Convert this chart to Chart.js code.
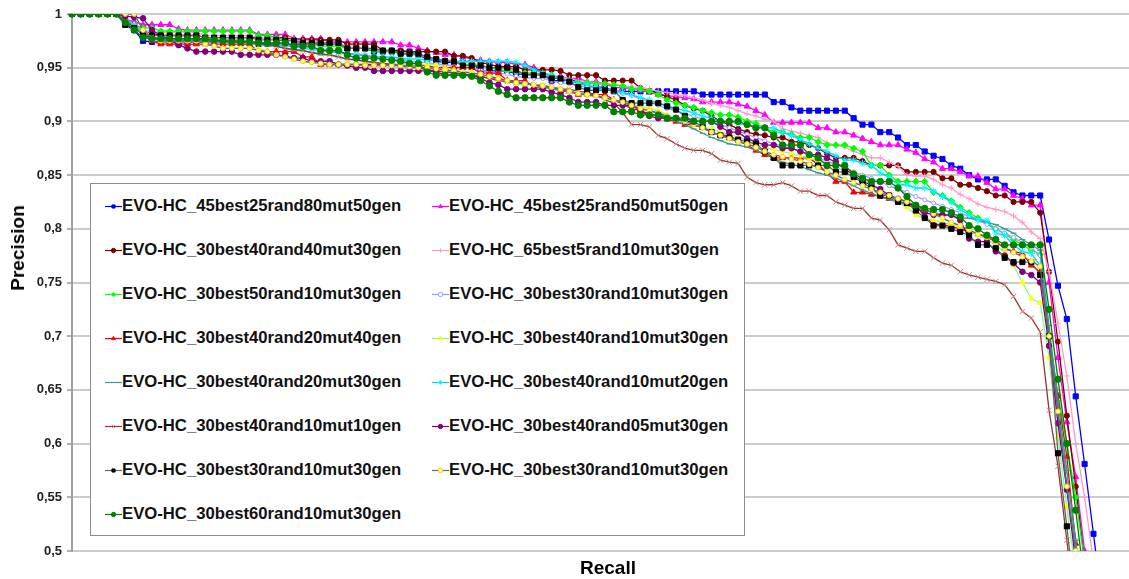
<!DOCTYPE html>
<html>
<head>
<meta charset="utf-8">
<script src="https://cdn.jsdelivr.net/npm/chart.js@4.4.1/dist/chart.umd.min.js"></script>
<style>
  body { margin: 0; background: #fff; }
  #wrap { position: relative; width: 1129px; height: 579px; overflow: hidden; }
  #chart { position: absolute; left: 0; top: 0; }
  .axis-title { position: absolute; font: bold 19px "Liberation Sans", Arial, sans-serif; color: #000; white-space: nowrap; }
  #ytitle { left: 18px; top: 248px; transform: translate(-50%, -50%) rotate(-90deg); }
  #xtitle { left: 608px; top: 568px; transform: translate(-50%, -50%); }
  #legend { position: absolute; left: 90px; top: 183px; width: 653px; height: 351px; background: #fff; border: 1px solid #8c8c8c; }
  .item { position: absolute; height: 20px; display: flex; align-items: center; font: bold 16.7px "Liberation Sans", Arial, sans-serif; color: #111; white-space: nowrap; }
</style>
</head>
<body>
<div id="wrap">
  <canvas id="chart" width="1129" height="579" style="width:1129px;height:579px"></canvas>
  <div id="legend"></div>
  <div class="axis-title" id="ytitle">Precision</div>
  <div class="axis-title" id="xtitle">Recall</div>
</div>
<script>
// recall steps (x axis has no printed labels)
const recallSteps = [
  1,2,3,4,5,6,7,8,9,10,11,12,13,14,15,16,17,18,19,20,
  21,22,23,24,25,26,27,28,29,30,31,32,33,34,35,36,37,38,39,40,
  41,42,43,44,45,46,47,48,49,50,51,52,53,54,55,56,57,58,59,60,
  61,62,63,64,65,66,67,68,69,70,71,72,73,74,75,76,77,78,79,80,
  81,82,83,84,85,86,87,88,89,90,91,92,93,94,95,96,97,98,99,100,
  101,102,103,104,105,106,107,108,109,110,111,112,113,114,115,116,117,118,119,120
];

const yTicks = [0.5, 0.55, 0.6, 0.65, 0.7, 0.75, 0.8, 0.85, 0.9, 0.95, 1];

const seriesNames = [
  "EVO-HC_45best25rand80mut50gen",
  "EVO-HC_45best25rand50mut50gen",
  "EVO-HC_30best40rand40mut30gen",
  "EVO-HC_65best5rand10mut30gen",
  "EVO-HC_30best50rand10mut30gen",
  "EVO-HC_30best30rand10mut30gen",
  "EVO-HC_30best40rand20mut40gen",
  "EVO-HC_30best40rand10mut30gen",
  "EVO-HC_30best40rand20mut30gen",
  "EVO-HC_30best40rand10mut20gen",
  "EVO-HC_30best40rand10mut10gen",
  "EVO-HC_30best40rand05mut30gen",
  "EVO-HC_30best30rand10mut30gen",
  "EVO-HC_30best30rand10mut30gen",
  "EVO-HC_30best60rand10mut30gen"
];

// precision values, one per recall step
const p45b25r80m50 = [
  1,1,1,1,1,1,0.99,0.985,0.975,0.974,
  0.974,0.974,0.974,0.974,0.974,0.974,0.974,0.974,0.974,0.974,
  0.974,0.972,0.972,0.972,0.972,0.972,0.972,0.972,0.972,0.972,
  0.972,0.968,0.968,0.968,0.965,0.965,0.965,0.965,0.965,0.962,
  0.958,0.956,0.955,0.955,0.955,0.955,0.947,0.947,0.947,0.947,
  0.944,0.944,0.944,0.944,0.938,0.938,0.938,0.938,0.932,0.932,
  0.932,0.928,0.928,0.928,0.928,0.928,0.928,0.928,0.928,0.928,
  0.928,0.925,0.925,0.925,0.925,0.925,0.925,0.925,0.925,0.918,
  0.918,0.913,0.91,0.91,0.91,0.91,0.91,0.91,0.903,0.897,
  0.897,0.89,0.89,0.885,0.878,0.878,0.872,0.868,0.865,0.859,
  0.856,0.85,0.846,0.846,0.846,0.84,0.834,0.831,0.831,0.831,
  0.79,0.747,0.716,0.644,0.581,0.516,0.45,null,null,null
];
const p45b25r50m50 = [
  1,1,1,1,1,1,0.995,0.993,0.99,0.99,
  0.99,0.99,0.986,0.985,0.985,0.985,0.985,0.985,0.985,0.985,
  0.985,0.981,0.981,0.981,0.981,0.977,0.977,0.977,0.977,0.974,
  0.974,0.974,0.974,0.974,0.974,0.974,0.974,0.971,0.971,0.968,
  0.966,0.964,0.962,0.962,0.96,0.958,0.957,0.956,0.955,0.955,
  0.953,0.953,0.95,0.946,0.942,0.942,0.94,0.94,0.937,0.937,
  0.935,0.932,0.931,0.931,0.929,0.927,0.925,0.924,0.923,0.922,
  0.921,0.918,0.918,0.918,0.918,0.916,0.914,0.91,0.906,0.899,
  0.899,0.899,0.899,0.899,0.894,0.894,0.89,0.89,0.887,0.884,
  0.881,0.878,0.878,0.878,0.874,0.871,0.865,0.862,0.856,0.856,
  0.853,0.849,0.849,0.843,0.837,0.837,0.831,0.828,0.822,0.822,
  0.75,0.68,0.62,0.569,0.5,0.43,null,null,null,null
];
const p30b40r40m30 = [
  1,1,1,1,1,1,0.995,0.99,0.985,0.982,
  0.98,0.98,0.98,0.98,0.98,0.978,0.978,0.978,0.978,0.978,
  0.978,0.978,0.978,0.978,0.978,0.976,0.976,0.976,0.976,0.976,
  0.976,0.972,0.972,0.972,0.972,0.966,0.966,0.966,0.965,0.965,
  0.965,0.965,0.965,0.961,0.961,0.959,0.955,0.953,0.951,0.951,
  0.951,0.948,0.948,0.948,0.948,0.947,0.943,0.943,0.943,0.943,
  0.938,0.938,0.938,0.938,0.931,0.928,0.926,0.923,0.92,0.915,
  0.912,0.91,0.905,0.9,0.897,0.893,0.89,0.888,0.887,0.885,
  0.885,0.881,0.881,0.878,0.875,0.87,0.866,0.866,0.866,0.863,
  0.859,0.859,0.859,0.859,0.853,0.853,0.853,0.853,0.847,0.847,
  0.841,0.841,0.838,0.835,0.831,0.831,0.825,0.825,0.825,0.815,
  0.76,0.695,0.626,0.56,0.49,null,null,null,null,null
];
const p65b5r10m30 = [
  1,1,1,1,1,1,0.995,0.99,0.985,0.983,
  0.983,0.983,0.983,0.983,0.983,0.98,0.98,0.98,0.98,0.98,
  0.98,0.978,0.978,0.978,0.976,0.976,0.975,0.975,0.974,0.973,
  0.972,0.97,0.97,0.968,0.967,0.966,0.965,0.964,0.963,0.962,
  0.96,0.958,0.958,0.956,0.955,0.955,0.952,0.95,0.95,0.948,
  0.947,0.945,0.945,0.943,0.942,0.941,0.94,0.938,0.937,0.936,
  0.935,0.934,0.933,0.932,0.932,0.93,0.928,0.927,0.925,0.924,
  0.922,0.92,0.917,0.915,0.913,0.91,0.907,0.905,0.902,0.9,
  0.893,0.891,0.889,0.887,0.885,0.88,0.878,0.876,0.872,0.869,
  0.866,0.866,0.862,0.858,0.85,0.849,0.849,0.846,0.841,0.838,
  0.832,0.828,0.823,0.82,0.818,0.816,0.812,0.806,0.797,0.791,
  0.76,0.712,0.663,0.6,0.55,0.49,null,null,null,null
];
const p30b50r10m30 = [
  1,1,1,1,1,1,0.993,0.99,0.987,0.987,
  0.984,0.984,0.984,0.984,0.984,0.984,0.984,0.984,0.984,0.984,
  0.984,0.98,0.98,0.978,0.976,0.975,0.973,0.972,0.97,0.97,
  0.97,0.968,0.968,0.968,0.966,0.965,0.965,0.963,0.962,0.962,
  0.96,0.958,0.957,0.955,0.953,0.953,0.952,0.95,0.948,0.947,
  0.946,0.945,0.945,0.944,0.943,0.94,0.938,0.936,0.936,0.935,
  0.935,0.934,0.933,0.93,0.93,0.928,0.925,0.92,0.917,0.915,
  0.913,0.91,0.908,0.906,0.906,0.904,0.9,0.898,0.894,0.89,
  0.89,0.888,0.885,0.885,0.881,0.878,0.878,0.878,0.875,0.872,
  0.859,0.859,0.85,0.844,0.844,0.844,0.844,0.834,0.831,0.826,
  0.82,0.815,0.81,0.806,0.8,0.795,0.79,0.785,0.78,0.776,
  0.7,0.645,0.6,0.55,0.49,null,null,null,null,null
];
const p30b30r10m30a = [
  1,1,1,1,1,1,0.995,0.99,0.98,0.978,
  0.977,0.977,0.977,0.977,0.977,0.975,0.975,0.975,0.975,0.975,
  0.975,0.973,0.973,0.973,0.97,0.97,0.97,0.968,0.968,0.965,
  0.965,0.963,0.963,0.962,0.96,0.96,0.958,0.958,0.956,0.955,
  0.955,0.953,0.953,0.951,0.95,0.95,0.948,0.946,0.945,0.944,
  0.942,0.941,0.94,0.94,0.938,0.936,0.935,0.933,0.932,0.931,
  0.93,0.928,0.926,0.924,0.921,0.918,0.915,0.912,0.91,0.907,
  0.905,0.902,0.9,0.897,0.894,0.891,0.888,0.885,0.882,0.879,
  0.877,0.875,0.872,0.869,0.866,0.863,0.86,0.857,0.853,0.85,
  0.847,0.844,0.84,0.837,0.834,0.83,0.827,0.824,0.821,0.818,
  0.815,0.811,0.808,0.804,0.8,0.796,0.792,0.787,0.782,0.775,
  0.7,0.63,0.57,0.51,0.44,null,null,null,null,null
];
const p30b40r20m40 = [
  1,1,1,1,1,1,0.995,0.99,0.98,0.975,
  0.972,0.972,0.972,0.972,0.972,0.972,0.972,0.972,0.972,0.972,
  0.972,0.965,0.965,0.965,0.965,0.965,0.96,0.96,0.953,0.953,
  0.953,0.953,0.953,0.953,0.953,0.953,0.953,0.953,0.953,0.952,
  0.952,0.95,0.95,0.95,0.95,0.95,0.945,0.945,0.945,0.938,
  0.938,0.938,0.932,0.932,0.932,0.928,0.928,0.925,0.925,0.925,
  0.925,0.92,0.916,0.912,0.91,0.907,0.905,0.902,0.9,0.897,
  0.897,0.894,0.89,0.887,0.887,0.882,0.878,0.873,0.869,0.866,
  0.866,0.866,0.866,0.866,0.86,0.852,0.844,0.844,0.834,0.834,
  0.832,0.83,0.828,0.826,0.823,0.821,0.812,0.804,0.804,0.802,
  0.8,0.797,0.795,0.793,0.788,0.782,0.779,0.777,0.766,0.76,
  0.7,0.644,0.588,0.507,0.44,null,null,null,null,null
];
const p30b40r10m30 = [
  1,1,1,1,1,1,0.995,0.99,0.98,0.976,
  0.975,0.975,0.975,0.975,0.975,0.972,0.97,0.968,0.968,0.968,
  0.968,0.968,0.965,0.962,0.96,0.958,0.956,0.955,0.954,0.954,
  0.954,0.954,0.954,0.954,0.954,0.954,0.954,0.953,0.953,0.953,
  0.953,0.953,0.95,0.948,0.946,0.946,0.942,0.94,0.938,0.937,
  0.935,0.934,0.934,0.934,0.932,0.93,0.928,0.926,0.924,0.924,
  0.922,0.92,0.918,0.916,0.914,0.912,0.91,0.906,0.903,0.9,
  0.897,0.895,0.893,0.89,0.888,0.885,0.882,0.879,0.876,0.874,
  0.872,0.87,0.868,0.866,0.863,0.86,0.857,0.854,0.851,0.848,
  0.84,0.835,0.83,0.825,0.82,0.813,0.81,0.808,0.806,0.804,
  0.802,0.798,0.794,0.79,0.785,0.778,0.766,0.75,0.735,0.731,
  0.68,0.606,0.541,0.48,null,null,null,null,null,null
];
const p30b40r20m30 = [
  1,1,1,1,1,1,0.993,0.988,0.98,0.977,
  0.976,0.976,0.976,0.976,0.976,0.974,0.974,0.974,0.974,0.974,
  0.972,0.972,0.97,0.97,0.968,0.966,0.966,0.964,0.962,0.962,
  0.96,0.958,0.958,0.956,0.955,0.953,0.953,0.952,0.95,0.95,
  0.948,0.947,0.946,0.946,0.944,0.943,0.942,0.94,0.94,0.938,
  0.937,0.936,0.934,0.932,0.93,0.929,0.928,0.926,0.925,0.923,
  0.922,0.92,0.918,0.915,0.912,0.91,0.907,0.904,0.9,0.897,
  0.893,0.889,0.885,0.882,0.879,0.878,0.876,0.873,0.87,0.866,
  0.862,0.86,0.858,0.855,0.852,0.85,0.847,0.844,0.84,0.836,
  0.833,0.83,0.827,0.825,0.822,0.82,0.818,0.815,0.813,0.812,
  0.81,0.81,0.808,0.806,0.804,0.8,0.796,0.79,0.785,0.78,
  0.71,0.64,0.575,0.51,0.44,null,null,null,null,null
];
const p30b40r10m20 = [
  1,1,1,1,1,1,0.995,0.99,0.982,0.978,
  0.977,0.977,0.977,0.977,0.977,0.976,0.976,0.976,0.976,0.976,
  0.975,0.974,0.973,0.972,0.97,0.97,0.968,0.967,0.966,0.965,
  0.964,0.963,0.962,0.961,0.96,0.96,0.96,0.959,0.958,0.958,
  0.957,0.957,0.956,0.956,0.956,0.956,0.956,0.956,0.956,0.956,
  0.955,0.952,0.948,0.945,0.943,0.94,0.938,0.935,0.934,0.932,
  0.93,0.929,0.927,0.925,0.922,0.92,0.917,0.915,0.912,0.91,
  0.908,0.905,0.903,0.9,0.9,0.898,0.897,0.895,0.894,0.894,
  0.89,0.887,0.883,0.879,0.875,0.872,0.868,0.864,0.864,0.861,
  0.859,0.852,0.848,0.841,0.841,0.838,0.838,0.835,0.83,0.825,
  0.818,0.813,0.808,0.808,0.796,0.794,0.785,0.779,0.777,0.766,
  0.7,0.63,0.56,0.5,0.43,null,null,null,null,null
];
const p30b40r10m10 = [
  1,1,1,1,1,1,0.993,0.988,0.98,0.978,
  0.977,0.977,0.977,0.977,0.977,0.975,0.975,0.975,0.975,0.975,
  0.974,0.973,0.972,0.97,0.968,0.967,0.966,0.964,0.963,0.962,
  0.96,0.958,0.957,0.956,0.955,0.954,0.953,0.952,0.951,0.95,
  0.948,0.947,0.946,0.945,0.944,0.943,0.942,0.94,0.938,0.937,
  0.936,0.935,0.934,0.933,0.932,0.93,0.93,0.928,0.927,0.925,
  0.92,0.917,0.908,0.897,0.897,0.895,0.887,0.884,0.879,0.875,
  0.873,0.873,0.87,0.864,0.862,0.861,0.848,0.843,0.841,0.841,
  0.843,0.84,0.835,0.835,0.831,0.831,0.825,0.822,0.819,0.819,
  0.81,0.808,0.799,0.785,0.782,0.779,0.779,0.773,0.768,0.766,
  0.76,0.757,0.755,0.753,0.751,0.748,0.737,0.723,0.717,0.704,
  0.631,0.579,0.51,0.44,null,null,null,null,null,null
];
const p30b40r05m30 = [
  1,1,1,1,1,1,0.998,0.997,0.996,0.985,
  0.98,0.976,0.971,0.968,0.965,0.965,0.965,0.965,0.965,0.962,
  0.962,0.962,0.962,0.962,0.961,0.959,0.959,0.956,0.956,0.956,
  0.953,0.952,0.95,0.95,0.947,0.947,0.947,0.947,0.947,0.947,
  0.947,0.946,0.943,0.943,0.943,0.943,0.94,0.936,0.934,0.93,
  0.93,0.93,0.93,0.93,0.927,0.925,0.922,0.918,0.918,0.918,
  0.915,0.915,0.915,0.915,0.91,0.905,0.903,0.903,0.903,0.9,
  0.9,0.9,0.9,0.895,0.89,0.89,0.884,0.881,0.878,0.878,
  0.875,0.875,0.872,0.869,0.869,0.866,0.862,0.856,0.85,0.844,
  0.841,0.837,0.831,0.828,0.825,0.82,0.815,0.813,0.813,0.813,
  0.808,0.791,0.788,0.788,0.779,0.775,0.768,0.76,0.757,0.75,
  0.691,0.619,0.557,0.49,null,null,null,null,null,null
];
const p30b30r10m30b = [
  1,1,1,1,1,1,0.99,0.987,0.981,0.98,
  0.98,0.98,0.98,0.98,0.98,0.978,0.978,0.978,0.978,0.978,
  0.978,0.976,0.976,0.976,0.975,0.975,0.973,0.973,0.973,0.973,
  0.973,0.968,0.968,0.968,0.968,0.966,0.966,0.963,0.963,0.963,
  0.96,0.958,0.956,0.956,0.952,0.952,0.952,0.95,0.95,0.95,
  0.948,0.943,0.943,0.943,0.94,0.94,0.937,0.932,0.929,0.929,
  0.929,0.929,0.92,0.917,0.917,0.917,0.917,0.914,0.911,0.905,
  0.9,0.895,0.89,0.887,0.885,0.883,0.881,0.879,0.872,0.866,
  0.859,0.859,0.859,0.859,0.859,0.859,0.853,0.853,0.848,0.843,
  0.838,0.831,0.831,0.825,0.824,0.817,0.81,0.803,0.803,0.8,
  0.797,0.794,0.785,0.785,0.782,0.773,0.769,0.769,0.769,0.757,
  0.7,0.591,0.523,0.45,null,null,null,null,null,null
];
const p30b30r10m30c = [
  1,1,1,1,1,1,1,1,0.985,0.978,
  0.975,0.975,0.975,0.975,0.975,0.972,0.97,0.968,0.968,0.968,
  0.968,0.966,0.965,0.962,0.96,0.958,0.956,0.955,0.954,0.953,
  0.953,0.953,0.953,0.952,0.952,0.952,0.952,0.952,0.951,0.95,
  0.95,0.949,0.948,0.947,0.946,0.945,0.944,0.942,0.94,0.938,
  0.936,0.935,0.934,0.933,0.932,0.93,0.928,0.926,0.925,0.924,
  0.922,0.92,0.918,0.915,0.912,0.91,0.908,0.905,0.902,0.9,
  0.897,0.894,0.89,0.887,0.884,0.881,0.879,0.876,0.872,0.869,
  0.867,0.865,0.863,0.86,0.857,0.853,0.85,0.846,0.843,0.84,
  0.837,0.834,0.831,0.828,0.825,0.822,0.818,0.814,0.81,0.806,
  0.803,0.799,0.795,0.792,0.788,0.782,0.778,0.774,0.77,0.765,
  0.7,0.63,0.56,0.5,0.43,null,null,null,null,null
];
const p30b60r10m30 = [
  1,1,1,1,1,1,0.992,0.985,0.978,0.977,
  0.977,0.977,0.977,0.977,0.977,0.977,0.976,0.975,0.974,0.974,
  0.974,0.973,0.973,0.973,0.973,0.97,0.97,0.97,0.966,0.966,
  0.966,0.962,0.959,0.959,0.959,0.958,0.957,0.956,0.954,0.954,
  0.946,0.943,0.943,0.943,0.943,0.942,0.938,0.933,0.928,0.925,
  0.922,0.922,0.922,0.922,0.922,0.922,0.918,0.915,0.915,0.915,
  0.915,0.909,0.909,0.909,0.906,0.906,0.906,0.903,0.903,0.903,
  0.9,0.9,0.9,0.9,0.9,0.9,0.897,0.894,0.894,0.887,
  0.878,0.878,0.878,0.869,0.866,0.859,0.859,0.859,0.851,0.847,
  0.844,0.844,0.844,0.838,0.83,0.822,0.819,0.818,0.818,0.815,
  0.811,0.803,0.8,0.794,0.79,0.785,0.785,0.785,0.785,0.785,
  0.725,0.66,0.6,0.538,0.47,null,null,null,null,null
];

const seriesValues = [
  p45b25r80m50, p45b25r50m50, p30b40r40m30, p65b5r10m30, p30b50r10m30,
  p30b30r10m30a, p30b40r20m40, p30b40r10m30, p30b40r20m30, p30b40r10m20,
  p30b40r10m10, p30b40r05m30, p30b30r10m30b, p30b30r10m30c, p30b60r10m30
];

// look of each series: line colour, marker shape, marker fill, marker edge, marker size
const lineColors = ["#0000ff", "#ff00ff", "#800000", "#ff99cc", "#00ff00", "#9999ff", "#ff0000", "#80ff80",
  "#339999", "#00ccff", "#993333", "#800080", "#666666", "#666666", "#008000"];
const markerStyles = ["rect", "triangle", "circle", "cross", "rectRot", "circle", "triangle", "triangle",
  "line", "star", "crossRot", "circle", "rect", "circle", "circle"];
const markerFills = ["#0000ff", "#ff00ff", "#800000", "#ff99cc", "#00ff00", "#ffffff", "#ff0000", "#ffff00",
  "#339999", "#00ffff", "#cc9999", "#800080", "#000000", "#ffff99", "#008000"];
const markerEdges = ["#0000ff", "#ff00ff", "#800000", "#ff99cc", "#00ff00", "#9999ff", "#ff0000", "#ffff00",
  "#339999", "#00ffff", "#cc8080", "#800080", "#000000", "#ffcc00", "#008000"];
const markerSizes = [3.6, 3.5, 2.6, 3, 3.2, 2, 3.5, 3, 3, 3.5, 3.8, 2.8, 3.6, 2.4, 3.2];

const FONT = '"Liberation Sans", Arial, sans-serif';

const datasets = seriesNames.map((name, i) => ({
  label: name,
  data: seriesValues[i],
  borderColor: lineColors[i],
  borderWidth: 1.3,
  backgroundColor: markerFills[i],
  pointStyle: markerStyles[i],
  pointRadius: markerSizes[i],
  pointBackgroundColor: markerFills[i],
  pointBorderColor: markerEdges[i],
  pointBorderWidth: 1,
  tension: 0,
  fill: false,
  order: seriesNames.length - i
}));

const ctx = document.getElementById("chart").getContext("2d");

new Chart(ctx, {
  type: "line",
  data: { labels: recallSteps, datasets: datasets },
  options: {
    responsive: false,
    animation: false,
    devicePixelRatio: 1,
    layout: { autoPadding: false, padding: { top: 14, right: 0, bottom: 0, left: 0 } },
    plugins: {
      legend: { display: false },
      tooltip: { enabled: false }
    },
    scales: {
      x: {
        ticks: { display: false },
        grid: { display: false },
        border: { display: false },
        afterFit: (scale) => { scale.height = 28; }
      },
      y: {
        min: 0.5,
        max: 1,
        afterBuildTicks: (scale) => { scale.ticks = yTicks.map((v) => ({ value: v })); },
        ticks: {
          padding: 5,
          color: "#222",
          font: { family: FONT, weight: "bold", size: 13 },
          callback: (v) => String(Math.round(v * 100) / 100).replace(".", ",")
        },
        grid: { color: "#cccccc", lineWidth: 2, tickLength: 5, tickColor: "#b0b0b0" },
        border: { color: "#a0a0a0", width: 2 },
        afterFit: (scale) => { scale.width = 72; }
      }
    }
  }
});

// legend box inside the plot, two columns
const legend = document.getElementById("legend");
seriesNames.forEach((name, i) => {
  const row = Math.floor(i / 2);
  const col = i % 2;
  const item = document.createElement("div");
  item.className = "item";
  item.style.left = (col === 0 ? 14 : 341) + "px";
  item.style.top = (11.5 + row * 44) + "px";

  const cv = document.createElement("canvas");
  cv.width = 17;
  cv.height = 12;
  const c = cv.getContext("2d");
  c.strokeStyle = lineColors[i];
  c.lineWidth = 1.2;
  c.beginPath();
  c.moveTo(0, 6.5);
  c.lineTo(17, 6.5);
  c.stroke();
  c.fillStyle = markerFills[i];
  c.strokeStyle = markerEdges[i];
  c.lineWidth = 1;
  if (Chart.helpers && Chart.helpers.drawPoint) {
    Chart.helpers.drawPoint(c, { pointStyle: markerStyles[i], radius: 2.2, rotation: 0, borderWidth: 1 }, 8.5, 6.5);
  } else {
    c.fillRect(7, 5, 3, 3);
  }
  item.appendChild(cv);

  const label = document.createElement("span");
  label.textContent = name;
  item.appendChild(label);
  legend.appendChild(item);
});
</script>
</body>
</html>
